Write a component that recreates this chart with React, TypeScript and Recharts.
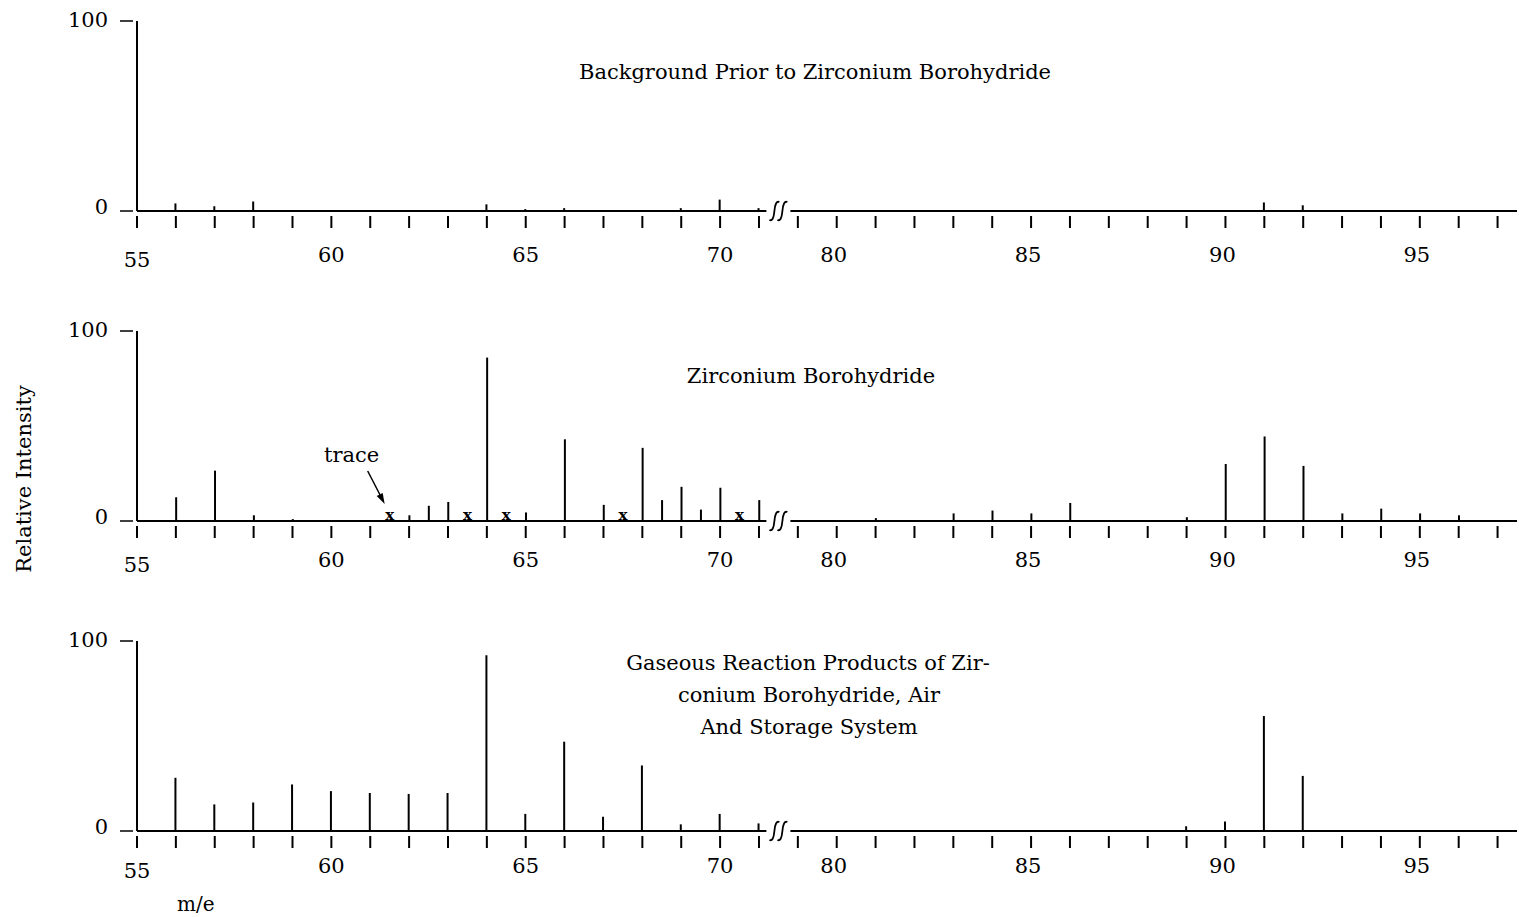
import React from 'react';
import { ComposedChart, Bar, XAxis, YAxis, Scatter, ReferenceLine, ReferenceDot } from 'recharts';

// ---------- data ----------
const backgroundMz = [56, 57, 58, 64, 65, 66, 69, 70, 71, 91, 92];
const backgroundIntensity = [4, 2.5, 5, 3.5, 1, 1.5, 1.5, 6, 1.5, 4.5, 3];

const zbMz = [56, 57, 58, 59, 62, 62.5, 63, 64, 65, 66, 67, 68, 68.5, 69, 69.5, 70, 71, 81, 83, 84, 85, 86, 89, 90, 91, 92, 93, 94, 95, 96];
const zbIntensity = [12.5, 26.5, 3, 1, 3, 8, 10, 86, 4.5, 43, 8.5, 38.5, 11, 18, 6, 17.5, 11, 1.5, 4, 5.5, 4, 9.5, 2, 30, 44.5, 29, 4, 6.5, 4, 3];
const zbTraceMz = [61.5, 63.5, 64.5, 67.5, 70.5];

const gasMz = [56, 57, 58, 59, 60, 61, 62, 63, 64, 65, 66, 67, 68, 69, 70, 71, 89, 90, 91, 92];
const gasIntensity = [28, 14, 15, 24.5, 21, 20, 19.5, 20, 92.5, 9, 47, 7.5, 34.5, 3.5, 9, 4, 2.5, 5, 60.5, 29];

const tickMz = [55, 56, 57, 58, 59, 60, 61, 62, 63, 64, 65, 66, 67, 68, 69, 70, 71,
  79, 80, 81, 82, 83, 84, 85, 86, 87, 88, 89, 90, 91, 92, 93, 94, 95, 96, 97];
const labelMz = [55, 60, 65, 70, 80, 85, 90, 95];
const yTicks = [0, 100];

const titles = [
  ['Background Prior to Zirconium Borohydride'],
  ['Zirconium Borohydride'],
  ['Gaseous Reaction Products of Zir-', 'conium Borohydride, Air', 'And Storage System'],
];

// broken axis: m/e 72..78 removed
const BREAK_SHIFT = 7;
const toAxis = (mz: number) => (mz >= 75 ? mz - BREAK_SHIFT : mz);
const fromAxis = (v: number) => (v > 71.75 ? Math.round((v + BREAK_SHIFT) * 100) / 100 : v);
const LEFT_END = 71.3;
const RIGHT_START = 78.7;
const X_MAX = 97.5;

const FONT = '"DejaVu Serif", serif';

const Stick = (props: any) => {
  const { x, y, width, height } = props;
  if (height == null || !(height > 0)) return null;
  const cx = x + width / 2;
  return <line x1={cx} x2={cx} y1={y} y2={y + height} stroke="#000" strokeWidth={2} />;
};

const TraceMark = (props: any) => {
  const { cx, cy } = props;
  return (
    <text x={cx} y={cy - 1} textAnchor="middle" fontFamily={FONT} fontSize={15} fontWeight="bold" fill="#000">x</text>
  );
};

const TraceNote = (props: any) => {
  const { cx, cy } = props;
  const x1 = cx - 22, y1 = cy - 50, x2 = cx - 5, y2 = cy - 17;
  return (
    <g>
      <text x={cx - 38} y={cy - 59} textAnchor="middle" fontFamily={FONT} fontSize={21} fill="#000">trace</text>
      <line x1={x1} y1={y1} x2={x2 - 2} y2={y2 - 4} stroke="#000" strokeWidth={1.5} />
      <path d={`M ${x2} ${y2} L ${x2 - 8} ${y2 - 8} L ${x2 - 2} ${y2 - 11} Z`} fill="#000" />
    </g>
  );
};

const BreakMark = (props: any) => {
  const { cx, cy } = props;
  const s = (x: number) => `M ${x - 5} ${cy + 9} Q ${x - 1} ${cy + 11} ${x} ${cy} T ${x + 5} ${cy - 9}`;
  return (
    <g>
      <rect x={cx - 12} y={cy - 3} width={24} height={6} fill="#fff" />
      <path d={s(cx - 4)} stroke="#000" strokeWidth={1.8} fill="none" />
      <path d={s(cx + 4)} stroke="#000" strokeWidth={1.8} fill="none" />
    </g>
  );
};

const makeXTick = (labelDy: number) => (props: any) => {
  const { x, y, payload } = props;
  const mz = fromAxis(payload.value);
  const show = labelMz.includes(mz);
  const dx = mz >= 80 ? -3 : 0;
  const dy = mz === 55 ? labelDy + 5 : labelDy;
  return (
    <g>
      <line x1={x} x2={x} y1={y + 5} y2={y + 17} stroke="#000" strokeWidth={2} />
      {show && (
        <text x={x + dx} y={y + dy} textAnchor="middle" fontFamily={FONT} fontSize={21} fill="#000">{mz}</text>
      )}
    </g>
  );
};

const YTick = (props: any) => {
  const { x, y, payload } = props;
  return (
    <g>
      <line x1={x - 17} x2={x - 4} y1={y} y2={y} stroke="#000" strokeWidth={1.5} />
      <text x={x - 29} y={payload.value === 0 ? y + 3 : y + 6} textAnchor="end" fontFamily={FONT} fontSize={21} fill="#000">{payload.value}</text>
    </g>
  );
};

const PLOT_H = 190;
const MARGIN_TOP = 21;

function Panel(props: { mz: number[]; intensity: number[]; traces?: number[]; height: number; labelDy: number; note?: boolean }) {
  const { mz, intensity, traces, height, labelDy, note } = props;
  const data = mz.map((m, i) => ({ x: toAxis(m), mz: m, value: intensity[i] }));
  const traceData = (traces || []).map((m) => ({ x: toAxis(m), y: 0 }));
  return (
    <ComposedChart width={1519} height={height} data={data} margin={{ top: MARGIN_TOP, right: 2, left: 0, bottom: 0 }}>
      <XAxis
        type="number"
        dataKey="x"
        domain={[55, toAxis(X_MAX)]}
        allowDataOverflow
        ticks={tickMz.map(toAxis)}
        interval={0}
        axisLine={false}
        tickLine={false}
        tickSize={0}
        tickMargin={0}
        height={height - MARGIN_TOP - PLOT_H}
        tick={makeXTick(labelDy)}
      />
      <YAxis
        type="number"
        domain={[0, 100]}
        ticks={yTicks}
        interval={0}
        width={137}
        axisLine={{ stroke: '#000', strokeWidth: 2 }}
        tickLine={false}
        tickSize={0}
        tickMargin={0}
        tick={YTick}
      />
      <ReferenceLine segment={[{ x: 55, y: 0 }, { x: LEFT_END, y: 0 }]} stroke="#000" strokeWidth={2} ifOverflow="visible" />
      <ReferenceLine segment={[{ x: toAxis(RIGHT_START), y: 0 }, { x: toAxis(X_MAX), y: 0 }]} stroke="#000" strokeWidth={2} ifOverflow="visible" />
      <Bar dataKey="value" barSize={2} shape={Stick} isAnimationActive={false} />
      {traceData.length > 0 && (
        <Scatter data={traceData} dataKey="y" shape={TraceMark} isAnimationActive={false} />
      )}
      <ReferenceDot x={(LEFT_END + toAxis(RIGHT_START)) / 2} y={0} shape={BreakMark} ifOverflow="visible" />
      {note && <ReferenceDot x={zbTraceMz[0]} y={0} shape={TraceNote} ifOverflow="visible" />}
    </ComposedChart>
  );
}

export default function App() {
  return (
    <div style={{ position: 'absolute', left: 0, top: 0, width: 1519, height: 917, overflow: 'hidden', background: '#fff' }}>
      <div style={{ position: 'absolute', left: 0, top: 0 }}>
        <Panel mz={backgroundMz} intensity={backgroundIntensity} height={310} labelDy={51} />
      </div>
      <div style={{ position: 'absolute', left: 0, top: 310 }}>
        <Panel mz={zbMz} intensity={zbIntensity} traces={zbTraceMz} height={310} labelDy={46} note />
      </div>
      <div style={{ position: 'absolute', left: 0, top: 620 }}>
        <Panel mz={gasMz} intensity={gasIntensity} height={297} labelDy={42} />
      </div>
      <svg width={1519} height={917} style={{ position: 'absolute', left: 0, top: 0, pointerEvents: 'none' }}>
        <g fontFamily={FONT} fontSize={21} fill="#000" textAnchor="middle">
          <text x={815} y={79}>{titles[0][0]}</text>
          <text x={811} y={383}>{titles[1][0]}</text>
          <text x={808} y={670}>{titles[2][0]}</text>
          <text x={809} y={702}>{titles[2][1]}</text>
          <text x={809} y={734}>{titles[2][2]}</text>
        </g>
        <text x={31} y={479} transform="rotate(-90 31 479)" textAnchor="middle" fontFamily={FONT} fontSize={21} fill="#000">Relative Intensity</text>
        <text x={177} y={911} fontFamily={FONT} fontSize={20} fill="#000">m/e</text>
      </svg>
    </div>
  );
}
